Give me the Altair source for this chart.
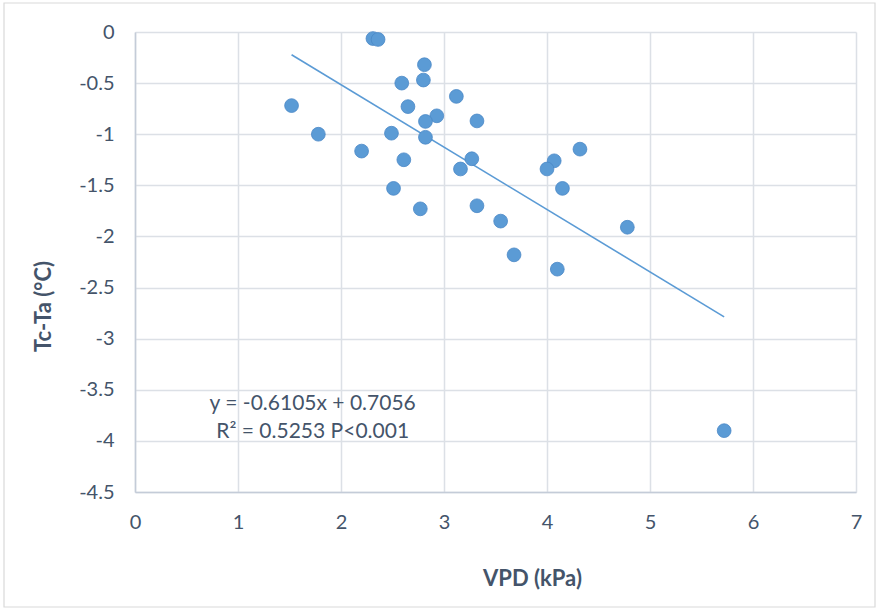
import altair as alt
import pandas as pd
import numpy as np

# Data
vpd = [2.31, 2.36, 2.81, 2.59, 2.80, 1.52, 3.12, 2.65, 2.93, 2.82,
       3.32, 1.78, 2.49, 2.82, 2.20, 2.61, 3.27, 3.16, 2.51, 2.77,
       3.32, 3.55, 4.32, 4.07, 4.00, 4.15, 4.78, 3.68, 4.10, 5.72]
tcta = [-0.064, -0.073, -0.32, -0.50, -0.47, -0.72, -0.63, -0.73, -0.82, -0.875,
        -0.87, -1.00, -0.99, -1.03, -1.165, -1.25, -1.24, -1.34, -1.53, -1.73,
        -1.70, -1.85, -1.146, -1.26, -1.34, -1.53, -1.91, -2.18, -2.32, -3.90]

slope = -0.6105
intercept = 0.7056
eq_lines = ["y = -0.6105x + 0.7056", "R² = 0.5253 P<0.001"]
eq_x = [1.725, 1.725]
eq_y = [-3.64, -3.915]

x_ticks = [0, 1, 2, 3, 4, 5, 6, 7]
y_ticks = [0, -0.5, -1, -1.5, -2, -2.5, -3, -3.5, -4, -4.5]

pts = pd.DataFrame({"VPD": vpd, "TcTa": tcta})
trend_x = [min(vpd), max(vpd)]
trend = pd.DataFrame({"VPD": trend_x, "TcTa": [slope * v + intercept for v in trend_x]})
eq = pd.DataFrame({"VPD": eq_x, "TcTa": eq_y, "label": eq_lines})

FONT = "Lato"
TXT = "#44546A"
BLUE = "#5B9BD5"

xscale = alt.Scale(domain=[0, 7], nice=False, zero=False)
yscale = alt.Scale(domain=[-4.5, 0], nice=False, zero=False)

xaxis = alt.Axis(values=x_ticks, labelExpr="'' + datum.value", title="VPD (kPa)",
                 grid=True, gridColor="#DCE0E6", gridWidth=1.5,
                 domainColor="#C4CCD8", domainWidth=1.5, ticks=False,
                 labelFont=FONT, labelFontSize=20, labelColor=TXT,
                 labelPadding=30, labelBaseline="middle", labelFlush=False,
                 titleFont=FONT, titleFontSize=22, titleFontWeight="bold", titleColor=TXT,
                 titleX=397, titleY=86, titleBaseline="middle", titleAlign="center")
yaxis = alt.Axis(values=y_ticks, labelExpr="'' + datum.value", title="Tc-Ta (°C)",
                 grid=True, gridColor="#DCE0E6", gridWidth=1.5,
                 domainColor="#C4CCD8", domainWidth=1.5, ticks=False,
                 labelFont=FONT, labelFontSize=20, labelColor=TXT,
                 labelPadding=21, labelFlush=False,
                 titleFont=FONT, titleFontSize=22, titleFontWeight="bold", titleColor=TXT,
                 titleX=-92, titleY=274, titleBaseline="middle", titleAlign="center", titleAngle=270)

points = alt.Chart(pts).mark_circle(size=190, color=BLUE, opacity=1,
                                    stroke="#4A88C6", strokeWidth=0.8).encode(
    x=alt.X("VPD:Q", scale=xscale, axis=xaxis),
    y=alt.Y("TcTa:Q", scale=yscale, axis=yaxis),
)

line = alt.Chart(trend).mark_line(color=BLUE, strokeWidth=1.6).encode(
    x=alt.X("VPD:Q", scale=xscale),
    y=alt.Y("TcTa:Q", scale=yscale),
)

text = alt.Chart(eq).mark_text(font=FONT, fontSize=21, color=TXT, align="center",
                               baseline="middle").encode(
    x=alt.X("VPD:Q", scale=xscale),
    y=alt.Y("TcTa:Q", scale=yscale),
    text="label:N",
)

frame = alt.Chart(pd.DataFrame({"a": [0]})).mark_rect(
    fill=None, stroke="#D9D9D9", strokeWidth=1.2).encode(
    x=alt.value(-131), x2=alt.value(740), y=alt.value(-29), y2=alt.value(575)
)

chart = alt.layer(line, points, text, frame).properties(
    width=721, height=460,
    autosize=alt.AutoSizeParams(type="none"),
    padding={"left": 135, "top": 32, "right": 23, "bottom": 118},
    background="white",
).configure_view(stroke=None)

chart.save("out.html", embed_options={"renderer": "svg", "actions": False})
